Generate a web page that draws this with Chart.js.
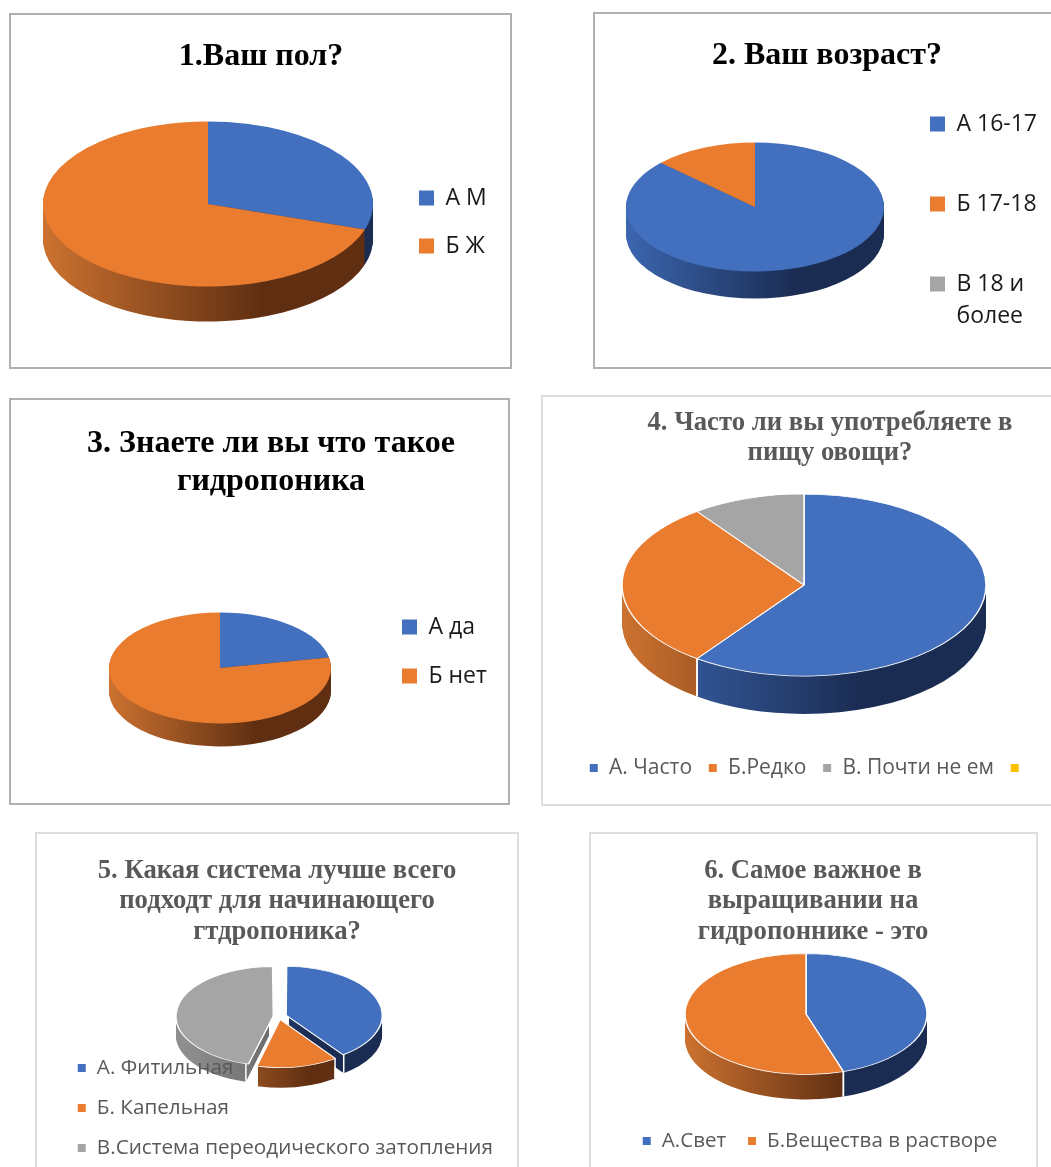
<!DOCTYPE html>
<html lang="ru">
<head>
<meta charset="utf-8">
<title>Опрос</title>
<script src="https://cdn.jsdelivr.net/npm/chart.js@4"></script>
<style>
  html, body { margin: 0; background: #fff; width: 1051px; height: 1167px; overflow: hidden; }
  .panel { position: absolute; box-sizing: border-box; background: #fff; }
  .panel.dark { border: 2px solid #b0b0b0; }
  .panel.light { border: 2px solid #dedede; }
  canvas { position: absolute; left: -2px; top: -2px; }
</style>
</head>
<body>
<script>
// данные опроса
const labels1 = ['А М', 'Б Ж'];
const values1 = [30, 70];
const labels2 = ['А 16-17', 'Б 17-18', ['В 18 и', 'более']];
const values2 = [87, 13, 0];
const labels3 = ['А да', 'Б нет'];
const values3 = [22, 78];
const labels4 = ['А. Часто', 'Б.Редко', 'В. Почти не ем', ''];
const values4 = [60, 30, 10, 0];
const labels5 = ['А. Фитильная', 'Б. Капельная', 'В.Система переодического затопления'];
const values5 = [40, 14, 46];
const labels6 = ['А.Свет', 'Б.Вещества в растворе'];
const values6 = [45, 55];

const titles = [
  ['1.Ваш пол?'],
  ['2. Ваш возраст?'],
  ['3. Знаете ли вы что такое', 'гидропоника'],
  ['4. Часто ли вы употребляете в', 'пищу овощи?'],
  ['5. Какая система лучше всего', 'подходт для начинающего', 'гтдропоника?'],
  ['6. Самое важное в', 'выращивании на', 'гидропоннике - это']
];

const TOP = ['#4270BE', '#EA7C30', '#A5A5A5', '#FFC000'];
const SIDE_LIGHT = ['#3C66B0', '#CC7230', '#8E8E8E', '#D9A400'];
const SIDE_DARK = ['#1A2C52', '#602F12', '#5E5E5E', '#7F6000'];

// Рисует объём: те же дуги Chart.js, сжатые по вертикали и сдвинутые вниз
const pie3d = {
  id: 'pie3d',
  beforeLayout(chart) {
    const lg = chart.legend;
    lg._layers = () => [{ z: 1, draw: area => lg.draw(area) }];
  },
  afterLayout(chart, args, o) {
    const a = chart.chartArea;
    const cx = o.center[0] - o.box[0], cy = o.center[1] - o.box[1];
    a.left = cx - 60; a.right = cx + 60; a.top = cy - 60; a.bottom = cy + 60;
    a.width = 120; a.height = 120;

    const t = chart.titleBlock;
    const lh = o.titleSize * o.titleLine;
    t.left = o.titleAt[0] - o.box[0] - 400;
    t.right = o.titleAt[0] - o.box[0] + 400;
    t.top = o.titleAt[1] - o.box[1] - lh / 2;
    t.bottom = t.top + 200;

    const lg = chart.legend;
    const pad = lg.options.labels.padding;
    const h = Math.max(lg.options.labels.font.size, lg.options.labels.boxHeight);
    lg.left = o.legendAt[0] - o.box[0] - pad;
    lg.right = lg.left + 900;
    lg.top = o.legendAt[1] - o.box[1] - pad - h / 2;
    lg.bottom = lg.top + 600;
  },
  beforeDatasetsDraw(chart, args, o) {
    const ctx = chart.ctx;
    const all = chart.getDatasetMeta(0).data;
    const arcs = all.filter(p => p.circumference > 0);
    const cx = arcs[0].x, cy = arcs[0].y, R = arcs[0].outerRadius;

    const shift = p => {
      const off = (p.options.offset || 0) / 4;
      const mid = (p.startAngle + p.endAngle) / 2;
      const k = off * (2 - Math.sin(Math.min(Math.PI, p.circumference)));
      return [cx + Math.cos(mid) * k, cy + Math.sin(mid) * k];
    };

    for (let d = o.depth; d >= 1; d--) {
      ctx.save();
      ctx.translate(cx, cy + d);
      ctx.scale(1, o.squash);
      ctx.translate(-cx, -cy);
      all.forEach((p, i) => {
        if (!(p.circumference > 0)) return;
        const g = ctx.createLinearGradient(cx - R, 0, cx - R + 1.32 * R, 0);
        g.addColorStop(0, SIDE_LIGHT[i]);
        g.addColorStop(1, SIDE_DARK[i]);
        const [x, y] = shift(p);
        ctx.beginPath();
        ctx.moveTo(x, y);
        ctx.arc(x, y, R, p.startAngle, p.endAngle);
        ctx.closePath();
        ctx.fillStyle = g;
        ctx.fill();
      });
      ctx.restore();
    }

    // белые рёбра на боковой стороне
    if (o.edges) {
      ctx.save();
      ctx.strokeStyle = '#fff';
      ctx.lineWidth = 1.5;
      arcs.forEach(p => {
        const [x, y] = shift(p);
        [p.startAngle, p.endAngle].forEach(ang => {
          if (Math.sin(ang) <= 0.05) return;
          const ex = x + Math.cos(ang) * R;
          const ey = cy + (y - cy + Math.sin(ang) * R) * o.squash;
          ctx.beginPath();
          ctx.moveTo(ex, ey);
          ctx.lineTo(ex, ey + o.depth);
          ctx.stroke();
        });
      });
      ctx.restore();
    }

    ctx.save();
    ctx.translate(cx, cy);
    ctx.scale(1, o.squash);
    ctx.translate(-cx, -cy);
  },
  afterDatasetsDraw(chart) {
    chart.ctx.restore();
  }
};

function makePie(cls, labels, values, title, o) {
  const panel = document.createElement('div');
  panel.className = 'panel ' + cls;
  panel.style.cssText = `left:${o.box[0]}px;top:${o.box[1]}px;width:${o.box[2]}px;height:${o.box[3]}px`;
  const canvas = document.createElement('canvas');
  canvas.width = o.box[2];
  canvas.height = o.box[3];
  panel.appendChild(canvas);
  document.body.appendChild(panel);

  return new Chart(canvas, {
    type: 'pie',
    data: {
      labels,
      datasets: [{
        data: values,
        backgroundColor: TOP.slice(0, values.length),
        borderColor: '#fff',
        borderWidth: o.edges ? 1.5 : 0,
        offset: o.offset || 0,
        clip: false
      }]
    },
    options: {
      responsive: false,
      animation: false,
      radius: o.rx,
      events: [],
      plugins: {
        title: {
          display: true,
          text: title,
          color: cls === 'dark' ? '#000' : '#595959',
          padding: 0,
          font: { family: '"Liberation Serif"', weight: 'bold', size: o.titleSize, lineHeight: o.titleLine }
        },
        legend: {
          display: true,
          position: o.legendPos,
          align: 'start',
          maxWidth: 900,
          labels: {
            color: cls === 'dark' ? '#1a1a1a' : '#595959',
            boxWidth: o.boxSize,
            boxHeight: o.boxSize,
            padding: o.legendGap,
            font: { family: '"Open Sans"', size: o.legendSize, lineHeight: o.legendLine || 1.2 }
          }
        },
        tooltip: { enabled: false },
        pie3d: o
      }
    },
    plugins: [pie3d]
  });
}

makePie('dark', labels1, values1, titles[0], {
  box: [9, 13, 503, 356], center: [208, 204], rx: 165, squash: 0.5, depth: 35,
  titleAt: [261, 57], titleSize: 32, titleLine: 1.15,
  legendAt: [419, 198], legendPos: 'right', legendSize: 23, boxSize: 15, legendGap: 25
});
makePie('dark', labels2, values2, titles[1], {
  box: [593, 12, 500, 357], center: [755, 207], rx: 129, squash: 0.5, depth: 27,
  titleAt: [827, 56], titleSize: 32, titleLine: 1.15,
  legendAt: [930, 124], legendPos: 'right', legendSize: 23, boxSize: 15, legendGap: 57, legendLine: 1.42
});
makePie('dark', labels3, values3, titles[2], {
  box: [9, 398, 501, 407], center: [220, 668], rx: 111, squash: 0.5, depth: 23,
  titleAt: [271, 444], titleSize: 32, titleLine: 1.19,
  legendAt: [402, 627], legendPos: 'right', legendSize: 23, boxSize: 15, legendGap: 26
});
makePie('light', labels4, values4, titles[3], {
  box: [541, 395, 560, 411], center: [804, 585], rx: 182, squash: 0.5, depth: 38, edges: true,
  titleAt: [830, 423.5], titleSize: 26.7, titleLine: 1.125,
  legendAt: [589, 768], legendPos: 'bottom', legendSize: 21, boxSize: 9.5, legendGap: 16
});
makePie('light', labels5, values5, titles[4], {
  box: [35, 832, 484, 400], center: [279, 1016.5], rx: 93, squash: 0.51, depth: 20, edges: true, offset: [30, 24, 23],
  titleAt: [277, 871], titleSize: 26.7, titleLine: 1.145,
  legendAt: [77, 1068], legendPos: 'left', legendSize: 20.7, boxSize: 9.5, legendGap: 19.3
});
makePie('light', labels6, values6, titles[5], {
  box: [589, 832, 449, 400], center: [806, 1014], rx: 121, squash: 0.5, depth: 25, edges: true,
  titleAt: [813, 871], titleSize: 26.7, titleLine: 1.145,
  legendAt: [642, 1141], legendPos: 'bottom', legendSize: 20.6, boxSize: 9.5, legendGap: 21
});
</script>
</body>
</html>
